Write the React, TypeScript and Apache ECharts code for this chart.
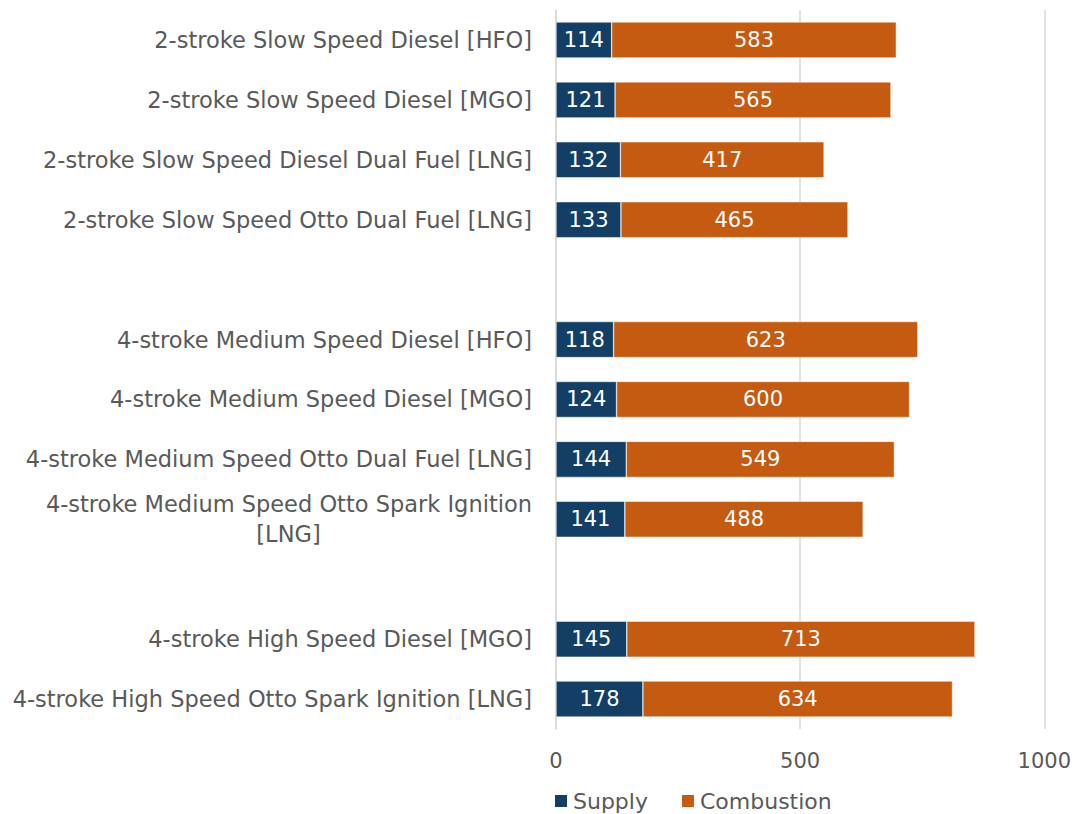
import React, { useEffect, useRef } from "react";
import * as echarts from "echarts";

const categories = [
  "2-stroke Slow Speed Diesel [HFO]",
  "2-stroke Slow Speed Diesel [MGO]",
  "2-stroke Slow Speed Diesel Dual Fuel [LNG]",
  "2-stroke Slow Speed Otto Dual Fuel [LNG]",
  " ",
  "4-stroke Medium Speed Diesel [HFO]",
  "4-stroke Medium Speed Diesel [MGO]",
  "4-stroke Medium Speed Otto Dual Fuel [LNG]",
  "4-stroke Medium Speed Otto Spark Ignition\n[LNG]",
  "  ",
  "4-stroke High Speed Diesel [MGO]",
  "4-stroke High Speed Otto Spark Ignition [LNG]",
];
const supply = [114, 121, 132, 133, null, 118, 124, 144, 141, null, 145, 178];
const combustion = [583, 565, 417, 465, null, 623, 600, 549, 488, null, 713, 634];
const xTicks = [0, 500, 1000];

const FONT = "'DejaVu Sans', sans-serif";
const GREY = "#595959";
const FS_Y = 22.5;
const FS = 21;

function measure(text: string, size: number): number {
  const c = document.createElement("canvas").getContext("2d");
  if (!c) return 490;
  c.font = `${size}px 'DejaVu Sans', sans-serif`;
  return Math.ceil(c.measureText(text).width);
}

export default function App() {
  const ref = useRef<HTMLDivElement>(null);
  useEffect(() => {
    if (!ref.current) return;
    const chart = echarts.init(ref.current, null, { renderer: "svg" });
    const multi = categories.find((c) => c.indexOf("\n") >= 0) || "";
    const firstW = measure(multi.split("\n")[0], FS_Y);
    chart.setOption({
      animation: false,
      textStyle: { fontFamily: FONT },
      grid: { left: 556, right: 29, top: 10, bottom: 85, containLabel: false },
      legend: {
        top: 790,
        left: 553,
        padding: 0,
        itemWidth: 14,
        itemHeight: 14,
        itemGap: 32,
        icon: "rect",
        textStyle: { color: GREY, fontSize: 22, fontFamily: FONT },
        data: ["Supply", "Combustion"],
      },
      xAxis: {
        type: "value",
        min: xTicks[0],
        max: xTicks[xTicks.length - 1],
        interval: 500,
        axisLine: { show: false },
        axisTick: { show: false },
        splitLine: { lineStyle: { color: "#d9d9d9", width: 1.5 } },
        axisLabel: {
          color: GREY,
          fontSize: FS,
          margin: 21,
          fontFamily: FONT,
          formatter: (v: number) => String(v),
        },
      },
      yAxis: {
        type: "category",
        inverse: true,
        data: categories,
        axisLine: { show: true, lineStyle: { color: "#d9d9d9", width: 1.5 } },
        axisTick: { show: false },
        axisLabel: {
          color: GREY,
          fontSize: FS_Y,
          margin: 24,
          fontFamily: FONT,
          lineHeight: 30,
          formatter: (v: string) => {
            if (v.indexOf("\n") >= 0) {
              const parts = v.split("\n");
              return `{a|${parts[0]}}\n{b|${parts[1]}}`;
            }
            return v;
          },
          rich: {
            a: { color: GREY, fontSize: FS_Y, fontFamily: FONT, lineHeight: 30 },
            b: { color: GREY, fontSize: FS_Y, fontFamily: FONT, lineHeight: 30, width: firstW, align: "center" },
          },
        },
      },
      series: [
        {
          name: "Supply",
          type: "bar",
          stack: "total",
          barWidth: 36,
          data: supply,
          itemStyle: { color: "#133F66", borderColor: "#ffffff", borderWidth: 0.5 },
          label: { show: true, position: "inside", color: "#ffffff", fontSize: FS, fontFamily: FONT },
        },
        {
          name: "Combustion",
          type: "bar",
          stack: "total",
          barWidth: 36,
          data: combustion,
          itemStyle: { color: "#C55A11", borderColor: "#ffffff", borderWidth: 0.5 },
          label: { show: true, position: "inside", color: "#ffffff", fontSize: FS, fontFamily: FONT },
        },
      ],
    });
    return () => chart.dispose();
  }, []);
  return (
    <div
      ref={ref}
      style={{ position: "absolute", left: 0, top: 0, width: 1074, height: 814 }}
    />
  );
}
